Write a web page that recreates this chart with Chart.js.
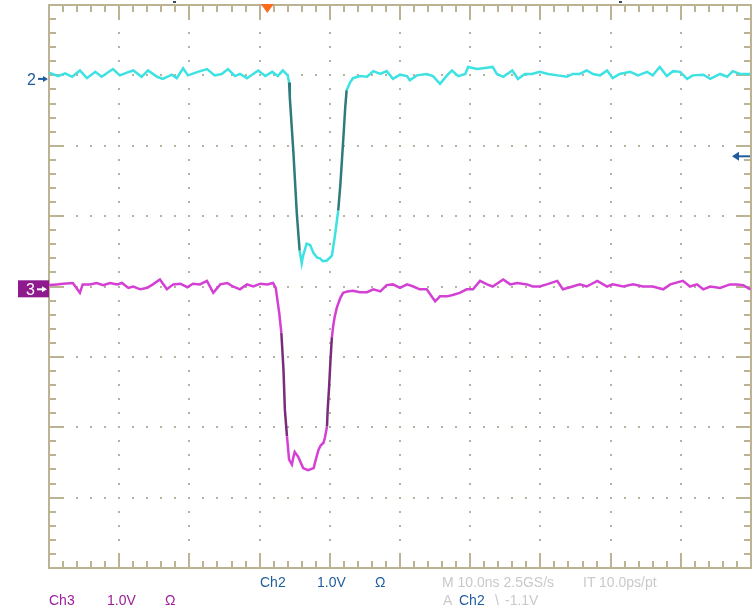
<!DOCTYPE html>
<html>
<head>
<meta charset="utf-8">
<title>Ch2 / Ch3 scope capture</title>
<script src="https://cdn.jsdelivr.net/npm/chart.js@4"></script>
<style>
  body { margin: 0; background: #fff; }
  #wrap { position: relative; width: 755px; height: 609px; }
  #scope { position: absolute; left: 0; top: 0; }
  .lbl { position: absolute; font: 14px "Liberation Sans", Arial, sans-serif; line-height: 14px; white-space: pre; }
  .big { font-size: 16px; line-height: 16px; }
  .ch2 { color: #1f5c9c; }
  .ch3 { color: #9a1e9a; }
  .dim { color: #c9c9c9; }
</style>
</head>
<body>
<div id="wrap">
  <canvas id="scope" width="755" height="609"></canvas>
  <span class="lbl big ch2" style="left:27px;top:72px">2</span>
  <span class="lbl big" style="left:26px;top:282px;color:#fff">3</span>
  <span class="lbl ch2" style="left:260px;top:575px">Ch2</span>
  <span class="lbl ch2" style="left:317px;top:575px">1.0V</span>
  <span class="lbl ch2" style="left:375px;top:575px">Ω</span>
  <span class="lbl dim" style="left:442px;top:575px">M 10.0ns 2.5GS/s</span>
  <span class="lbl dim" style="left:583px;top:575px">IT 10.0ps/pt</span>
  <span class="lbl ch3" style="left:49px;top:593px">Ch3</span>
  <span class="lbl ch3" style="left:107px;top:593px">1.0V</span>
  <span class="lbl ch3" style="left:165px;top:593px">Ω</span>
  <span class="lbl dim" style="left:443px;top:593px">A</span>
  <span class="lbl ch2" style="left:459px;top:593px">Ch2</span>
  <span class="lbl dim" style="left:495px;top:593px">\</span>
  <span class="lbl dim" style="left:505px;top:593px">-1.1V</span>
</div>
<script>
// time base: 10 ns/div, 10 divisions; vertical: 8 divisions, 1.0 V/div
const X_MIN = 0, X_MAX = 100, X_DIV = 10;
const Y_MIN = -4, Y_MAX = 4;
const MINOR = 5; // minor marks per division

// channel ground positions (divisions from centre) and trigger
const CH2_POS = 2.95;
const CH3_POS = -0.04;
const TRIG_TIME = 31.1;   // ns
const TRIG_LEVEL = -1.1;  // V on Ch2
const TOP_MARKS = [17.8, 81.3]; // small readout marks above the screen (ns)

// Ch2 trace (ns, V)
const ch2T = [0, 1.3, 2.3, 3.3, 4.4, 5.4, 6.6, 7.5, 9.1, 10.1, 11.1, 12.0, 13.2, 14.1, 15.4, 16.2, 17.5, 18.2, 19.1, 19.8,
  21.2, 22.5, 23.6, 24.6, 25.5, 26.5, 27.2, 28.2, 29.8, 30.8, 31.8, 32.6, 33.3, 34.0,
  34.2, 34.3, 34.8, 35.3, 35.7, 36.0, 36.2, 36.7, 37.2, 37.7, 38.2, 38.6, 39.0, 39.6, 39.9, 40.3, 40.7, 41.2, 41.5, 41.7,
  42.0, 42.2, 42.4, 42.9, 43.3,
  44.3, 45.3, 46.2, 47.2, 48.1, 49.0, 50.0, 51.0, 51.4, 52.4, 53.8, 54.7, 55.7, 56.7, 57.4, 58.3, 59.3, 59.7, 61.0, 61.8,
  63.2, 63.8, 64.7, 66.0, 66.8, 67.8, 68.8, 69.9, 71.1, 72.4, 73.8, 74.6, 75.6, 76.6, 77.5, 78.5, 79.5, 80.3, 81.3, 82.8,
  83.9, 85.2, 86.0, 87.0, 88.0, 88.9, 89.9, 90.9, 91.7, 93.2, 94.2, 95.6, 96.6, 97.4, 98.4, 99.9];
const ch2V = [0.09, 0.04, 0.08, 0.03, 0.12, 0.01, 0.10, 0.03, 0.14, 0.05, 0.09, 0.12, 0.03, 0.12, 0.03, 0.00, 0.06, 0.01, 0.15, 0.05,
  0.10, 0.14, 0.05, 0.07, 0.14, 0.04, 0.07, 0.01, 0.12, 0.04, 0.10, 0.04, 0.12, 0.05,
  -0.05, -0.26, -1.02, -1.91, -2.44, -2.62, -2.51, -2.34, -2.36, -2.48, -2.54, -2.55, -2.59, -2.58, -2.55, -2.51, -2.25, -1.87, -1.51, -1.20,
  -0.73, -0.40, -0.16, -0.05, 0.01,
  0.04, 0.03, 0.11, 0.07, 0.11, 0.00, 0.06, 0.04, -0.02, 0.05, 0.07, 0.04, -0.07, 0.05, 0.12, 0.04, 0.07, 0.17, 0.14, 0.15,
  0.17, 0.07, 0.03, 0.12, 0.00, 0.07, 0.07, 0.10, 0.07, 0.05, 0.03, 0.07, 0.07, 0.12, 0.07, 0.05, 0.12, 0.01, 0.07, 0.10,
  0.05, 0.10, 0.05, 0.17, 0.04, 0.11, 0.10, 0.00, 0.05, 0.06, 0.00, 0.07, 0.03, 0.11, 0.07, 0.07];

// Ch3 trace (ns, V)
const ch3T = [0, 1.1, 2.0, 3.4, 4.4, 4.8, 5.8, 6.8, 7.7, 8.7, 9.7, 10.4, 11.3, 12.0, 13.0, 14.0, 14.8, 15.8, 16.8, 17.7,
  18.7, 19.7, 20.5, 21.5, 22.5, 23.4, 24.4, 25.4, 26.2, 27.2, 28.2, 29.1, 30.1, 31.1, 31.9, 32.3,
  32.8, 33.1, 33.4, 33.6, 33.9, 34.2, 34.6, 34.8, 35.0, 35.5, 35.9, 36.2, 36.9, 37.7, 38.0, 38.4, 38.7, 39.1, 39.3, 39.6,
  39.7, 39.9, 40.1, 40.3, 40.5, 40.7, 41.0, 41.5, 41.9, 42.5, 43.3,
  44.3, 45.3, 46.2, 47.2, 48.1, 49.0, 50.0, 51.0, 51.9, 52.8, 53.8, 55.0, 55.7, 56.7, 57.5, 58.5, 59.5, 60.4, 61.4, 62.4,
  63.2, 64.7, 65.7, 66.7, 68.1, 68.9, 69.9, 70.9, 72.4, 73.2, 74.6, 75.6, 76.6, 78.1, 79.5, 80.3, 81.8, 83.2, 84.6, 86.0,
  87.5, 88.5, 90.3, 91.3, 92.3, 93.2, 94.2, 95.6, 97.0, 98.0, 98.9, 99.9];
const ch3V = [0.06, 0.07, 0.08, 0.09, -0.05, 0.07, 0.07, 0.09, 0.06, 0.09, 0.07, 0.09, 0.02, 0.04, 0.00, 0.02, 0.07, 0.14, 0.00, 0.07,
  0.08, 0.03, 0.08, 0.07, 0.12, -0.05, 0.07, 0.09, 0.04, 0.00, 0.07, 0.04, 0.08, 0.07, 0.09, 0.02,
  -0.34, -0.62, -1.14, -1.71, -2.09, -2.42, -2.49, -2.39, -2.31, -2.38, -2.47, -2.54, -2.57, -2.54, -2.42, -2.28, -2.22, -2.18, -2.11, -1.95,
  -1.71, -1.39, -1.00, -0.68, -0.51, -0.39, -0.26, -0.12, -0.05, -0.03, -0.02,
  -0.04, -0.04, 0.00, -0.03, 0.06, 0.07, 0.02, 0.07, 0.04, 0.00, 0.00, -0.17, -0.10, -0.10, -0.08, -0.05, 0.00, 0.00, 0.12, 0.07,
  0.04, 0.14, 0.07, 0.09, 0.07, 0.04, 0.04, 0.07, 0.12, 0.00, 0.04, 0.07, 0.04, 0.12, 0.04, 0.07, 0.04, 0.07, 0.04, 0.04,
  0.00, 0.07, 0.12, 0.04, 0.07, 0.00, 0.04, 0.02, 0.07, 0.07, 0.06, 0.00];

const CH2_COLOR = '#3ee2e2', CH2_EDGE = '#2f7a7c', CH2_MARK = '#1f5c9c';
const CH3_COLOR = '#d43fd4', CH3_EDGE = '#7a2c7a', CH3_BOX = '#8e1a8e';
const FRAME = '#bcb294', DOT = '#b3b39e';

function toPoints(ts, vs, pos) {
  return ts.map((t, i) => ({ x: t, y: vs[i] + pos }));
}

// steep parts of the trace come out darker on the scope screen
function edgeColor(dark) {
  return c => {
    const dx = c.p1.parsed.x - c.p0.parsed.x;
    const dy = c.p1.parsed.y - c.p0.parsed.y;
    return Math.abs(dy / dx) > 1.2 ? dark : undefined;
  };
}

const graticule = {
  id: 'graticule',
  beforeDatasetsDraw(chart) {
    const { ctx, chartArea: a, scales: { x, y } } = chart;
    ctx.save();
    ctx.fillStyle = DOT;
    const nx = (X_MAX - X_MIN) / X_DIV, ny = Y_MAX - Y_MIN;
    // dotted vertical lines
    for (let i = 1; i < nx; i++) {
      const px = x.getPixelForValue(X_MIN + i * X_DIV);
      for (let j = 1; j < ny * MINOR; j++) {
        const py = y.getPixelForValue(Y_MIN + j / MINOR);
        ctx.fillRect(Math.round(px) - 1, Math.round(py) - 1, 2, 2);
      }
    }
    // dotted horizontal lines
    for (let j = 1; j < ny; j++) {
      const py = y.getPixelForValue(Y_MIN + j);
      for (let i = 1; i < nx * MINOR; i++) {
        const px = x.getPixelForValue(X_MIN + i * X_DIV / MINOR);
        ctx.fillRect(Math.round(px) - 1, Math.round(py) - 1, 2, 2);
      }
    }
    // frame with tick marks
    ctx.strokeStyle = FRAME;
    ctx.lineWidth = 2;
    ctx.strokeRect(a.left, a.top, a.right - a.left, a.bottom - a.top);
    ctx.beginPath();
    for (let i = 1; i < nx * MINOR; i++) {
      const px = Math.round(x.getPixelForValue(X_MIN + i * X_DIV / MINOR));
      const len = i % MINOR === 0 ? 15 : 7;
      ctx.moveTo(px, a.top); ctx.lineTo(px, a.top + len);
      ctx.moveTo(px, a.bottom); ctx.lineTo(px, a.bottom - len);
    }
    for (let j = 1; j < ny * MINOR; j++) {
      const py = Math.round(y.getPixelForValue(Y_MIN + j / MINOR));
      const len = j % MINOR === 0 ? 15 : 7;
      ctx.moveTo(a.left, py); ctx.lineTo(a.left + len, py);
      ctx.moveTo(a.right, py); ctx.lineTo(a.right - len, py);
    }
    ctx.stroke();
    ctx.restore();
  },
  afterDatasetsDraw(chart) {
    const { ctx, chartArea: a, scales: { x, y } } = chart;
    ctx.save();
    // small marks above the screen
    ctx.fillStyle = '#3a4a5a';
    TOP_MARKS.forEach(t => ctx.fillRect(Math.round(x.getPixelForValue(t)) - 1, 1, 3, 2));
    // trigger position marker
    const tx = x.getPixelForValue(TRIG_TIME);
    ctx.fillStyle = '#ff6b1c';
    ctx.beginPath();
    ctx.moveTo(tx - 6.5, a.top - 1); ctx.lineTo(tx + 6.5, a.top - 1); ctx.lineTo(tx, a.top + 8);
    ctx.closePath(); ctx.fill();

    const arrow = (x0, x1, py, color, head) => {
      const d = Math.sign(x1 - x0);
      ctx.strokeStyle = color; ctx.fillStyle = color; ctx.lineWidth = 2;
      ctx.beginPath(); ctx.moveTo(x0, py); ctx.lineTo(x1 - d * head, py); ctx.stroke();
      ctx.beginPath(); ctx.moveTo(x1, py); ctx.lineTo(x1 - d * (head + 1), py - head * 0.75); ctx.lineTo(x1 - d * (head + 1), py + head * 0.75);
      ctx.closePath(); ctx.fill();
    };
    // channel ground markers
    const g2 = y.getPixelForValue(CH2_POS);
    arrow(a.left - 11, a.left - 1, g2, CH2_MARK, 4);
    const g3 = y.getPixelForValue(CH3_POS);
    ctx.fillStyle = CH3_BOX;
    ctx.fillRect(a.left - 31, g3 - 9, 31, 17);
    arrow(a.left - 12, a.left - 2, g3, '#fff', 4);
    // trigger level marker
    const tl = y.getPixelForValue(CH2_POS + TRIG_LEVEL);
    arrow(a.right - 1, a.right - 19, tl, CH2_MARK, 6);
    ctx.restore();
  }
};

new Chart(document.getElementById('scope'), {
  type: 'line',
  data: {
    datasets: [
      {
        label: 'Ch2',
        data: toPoints(ch2T, ch2V, CH2_POS),
        borderColor: CH2_COLOR,
        borderWidth: 2.5,
        pointRadius: 0,
        tension: 0,
        segment: { borderColor: edgeColor(CH2_EDGE) }
      },
      {
        label: 'Ch3',
        data: toPoints(ch3T, ch3V, CH3_POS),
        borderColor: CH3_COLOR,
        borderWidth: 2.5,
        pointRadius: 0,
        tension: 0,
        segment: { borderColor: edgeColor(CH3_EDGE) }
      }
    ]
  },
  options: {
    responsive: false,
    animation: false,
    devicePixelRatio: 1,
    layout: { padding: { left: 49, top: 5, right: 4, bottom: 41 } },
    plugins: { legend: { display: false }, tooltip: { enabled: false } },
    scales: {
      x: { type: 'linear', min: X_MIN, max: X_MAX, display: false },
      y: { type: 'linear', min: Y_MIN, max: Y_MAX, display: false }
    }
  },
  plugins: [graticule]
});
</script>
</body>
</html>
